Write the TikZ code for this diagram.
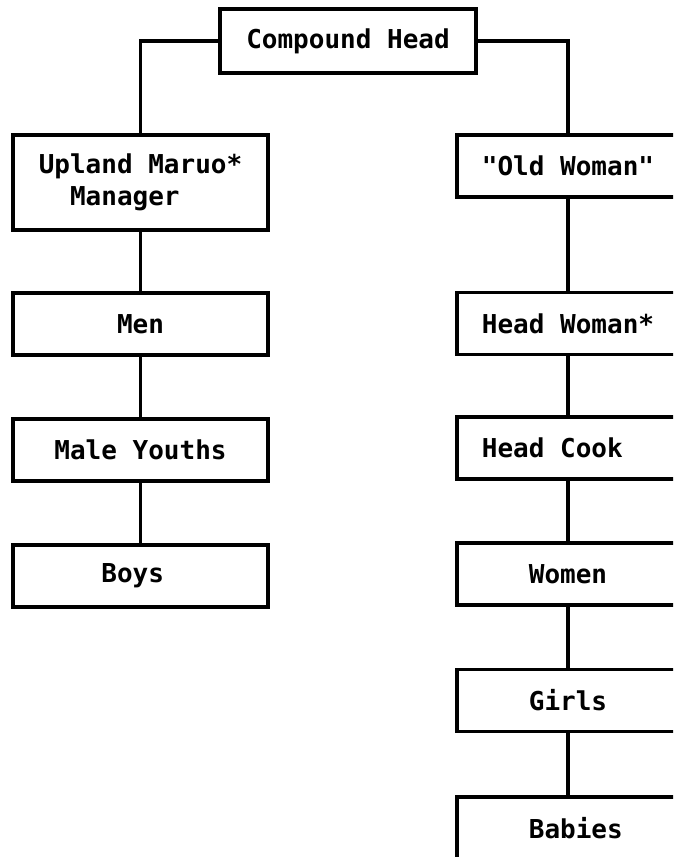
\documentclass[tikz,border=0pt]{standalone}
\usepackage{fontspec}
\setmonofont{DejaVu Sans Mono}
\begin{document}
\begin{tikzpicture}[x=1pt,y=-1pt,line width=3.2pt,
  box/.style={draw=black,rectangle,inner sep=0pt,minimum height=62pt,
    font=\ttfamily\bfseries\fontsize{26}{32}\selectfont},
  leftbox/.style={box,minimum width=255pt},
  rightbox/.style={box,minimum width=222pt}]
\clip (0,0) rectangle (673,857);
\node[box,minimum width=256pt,minimum height=64pt] (head) at (348,41) {Compound Head};
% left column
\node[leftbox,minimum height=95pt,align=left] (upland) at (140.5,182.5) {Upland Maruo*\\\phantom{Up}Manager};
\node[leftbox] (men) at (140.5,324) {Men};
\node[leftbox] (youths) at (140.5,450) {Male Youths};
\node[leftbox] (boys) at (140.5,576) {Boys\phantom{x}};
% right column
\node[rightbox] (oldwoman) at (568,166) {"Old Woman"};
\node[rightbox] (headwoman) at (568,323.5) {Head Woman*};
\node[rightbox] (cook) at (568,448) {Head Cook\phantom{xx}};
\node[rightbox] (women) at (568,574) {Women};
\node[rightbox] (girls) at (568,700.5) {Girls};
\node[rightbox] (babies) at (568,828) {\phantom{x}Babies};
\draw (head.west) -| (upland.north);
\draw (head.east) -| (oldwoman.north);
\foreach \a/\b in {upland/men,men/youths,youths/boys,oldwoman/headwoman,headwoman/cook,cook/women,women/girls,girls/babies}
\draw (\a) -- (\b);
\end{tikzpicture}
\end{document}
